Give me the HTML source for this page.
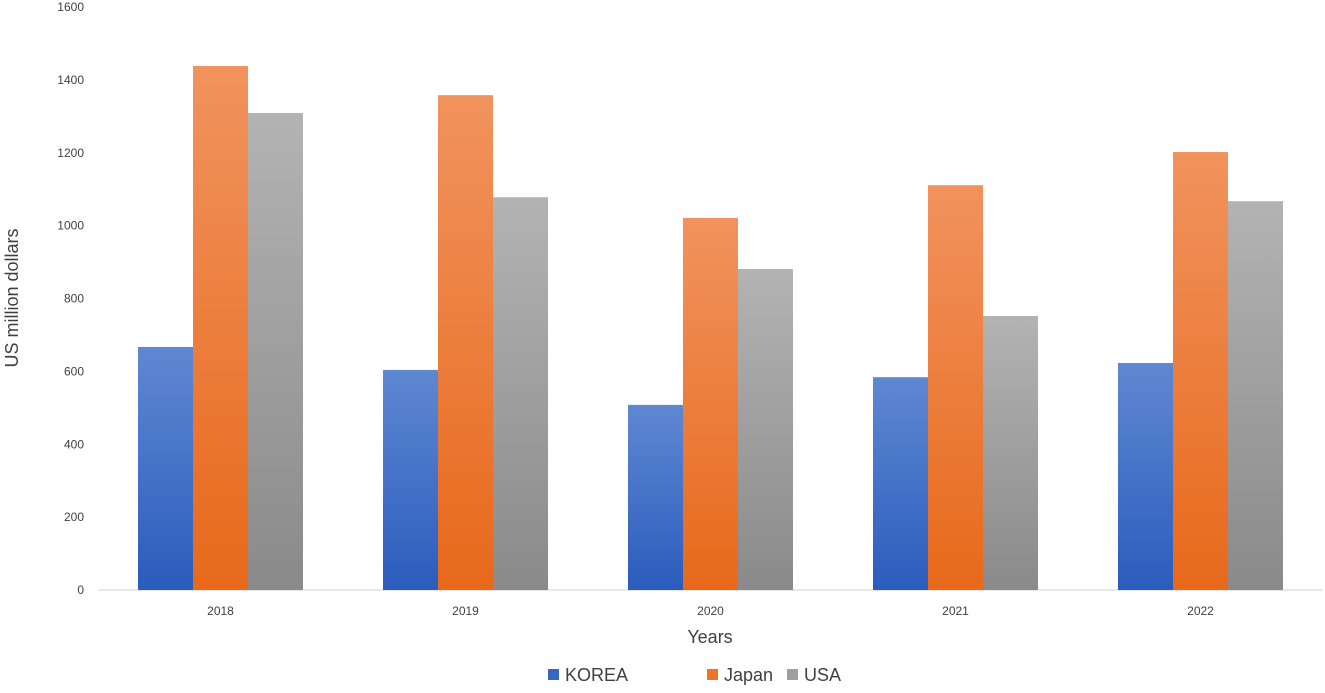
<!DOCTYPE html>
<html><head><meta charset="utf-8"><style>
body{margin:0;background:#fff;width:1325px;height:688px;overflow:hidden;font-family:"Liberation Sans",sans-serif}
</style></head><body>
<svg id="chart" width="1325" height="688" xmlns="http://www.w3.org/2000/svg">
<defs>
<linearGradient id="gk" x1="0" y1="0" x2="0" y2="1"><stop offset="0" stop-color="#5f88d2"/><stop offset="1" stop-color="#2b5cbd"/></linearGradient>
<linearGradient id="gj" x1="0" y1="0" x2="0" y2="1"><stop offset="0" stop-color="#f1935e"/><stop offset="1" stop-color="#e7691b"/></linearGradient>
<linearGradient id="gu" x1="0" y1="0" x2="0" y2="1"><stop offset="0" stop-color="#b3b3b3"/><stop offset="1" stop-color="#8a8a8a"/></linearGradient>
</defs>
</svg>
<script>
const categories=["2018","2019","2020","2021","2022"];
const korea=[667,604,508,584,623];
const japan=[1438,1358,1021,1111,1202];
const usa=[1309,1078,881,752,1067];
const yTicks=[0,200,400,600,800,1000,1200,1400,1600];
const seriesNames=["KOREA","Japan","USA"];
const svg=document.getElementById('chart');
const NS='http://www.w3.org/2000/svg';
const x0=98,catW=245,y0=590,yTop=7,yMax=1600,barW=55;
const y=v=>y0-(v/yMax)*(y0-yTop);
function mk(t,a,txt){const e=document.createElementNS(NS,t);for(const k in a)e.setAttribute(k,a[k]);if(txt!=null)e.textContent=txt;svg.appendChild(e);return e;}
yTicks.forEach(v=>{
const t=mk('text',{x:84,y:y(v)+4,'text-anchor':'end','font-size':12,fill:'#404040'},v);


});
const axis=mk('line',{x1:x0,x2:x0+catW*5,y1:y0,y2:y0,stroke:'#d0d0d0','stroke-width':1});


const series=[korea,japan,usa],fills=['url(#gk)','url(#gj)','url(#gu)'],keys=['korea','japan','usa'];
categories.forEach((c,i)=>{
const cx=x0+catW*(i+0.5);
series.forEach((s,j)=>{
const r=mk('rect',{x:cx-1.5*barW+j*barW,y:y(s[i]),width:barW,height:y0-y(s[i]),fill:fills[j]});


});
const t=mk('text',{x:cx,y:615,'text-anchor':'middle','font-size':12,fill:'#404040'},c);


});
const xt=mk('text',{x:710,y:643,'text-anchor':'middle','font-size':18,fill:'#404040'},'Years');


const yt=mk('text',{x:0,y:0,'text-anchor':'middle','font-size':18,fill:'#404040',transform:'translate(18,298) rotate(-90)'},'US million dollars');


const lx=[548,707,787],sc=['#3867c3','#ec7426','#9f9f9f'];
seriesNames.forEach((n,j)=>{
const r=mk('rect',{x:lx[j],y:669,width:11,height:11,fill:sc[j]});


const t=mk('text',{x:lx[j]+17,y:681,'font-size':18,fill:'#404040'},n);


});
</script>
</body></html>
